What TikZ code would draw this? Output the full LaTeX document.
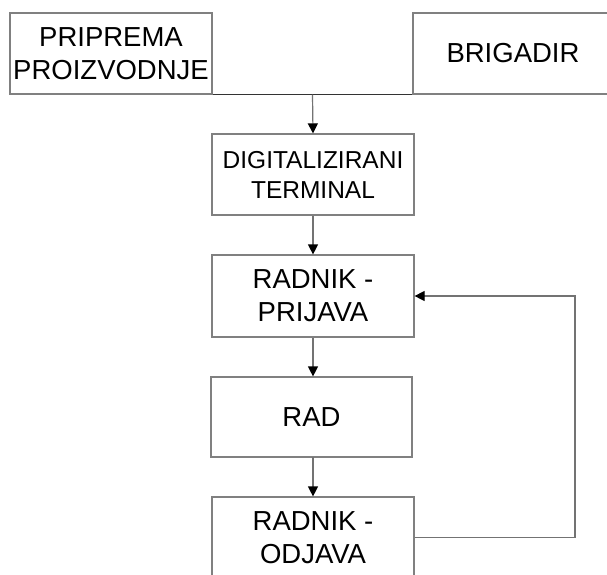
\documentclass[tikz,border=0pt]{standalone}
\usepackage{fontspec}
\setmainfont{Liberation Sans}
\usetikzlibrary{arrows.meta,calc}
\begin{document}
\begin{tikzpicture}[x=1pt,y=-1pt,
  box/.style={draw=black!50,line width=1.2pt,rectangle,inner sep=0pt,
    minimum width=202pt,minimum height=81pt,align=center,
    font=\fontsize{27.5}{33}\selectfont},
  smallbox/.style={box,font=\fontsize{24.5}{30}\selectfont},
  conn/.style={draw=black!55,line width=1.2pt},
  arr/.style={conn,-{Triangle[length=10pt,width=10pt,color=black]}}]
\useasboundingbox (0,0) rectangle (607,574);
\fill[white] (0,0) rectangle (607,574);
\node[box] (prip) at (111,53.5) {PRIPREMA\\PROIZVODNJE};
\node[box,minimum width=200pt] (brig) at (513,53.5) {BRIGADIR};
\node[smallbox] (dig) at (313,174.5) {DIGITALIZIRANI\\TERMINAL};
\node[box,minimum height=82pt] (prij) at (313,296) {RADNIK -\\PRIJAVA};
\node[box,minimum width=201pt,minimum height=80pt] (rad) at (311.5,417) {RAD};
\node[box] (odj) at (313,537.5) {RADNIK -\\ODJAVA};
\draw[conn,draw=black!80] (prip.south east) -- (brig.south west);
\coordinate (j) at ($(prip.south east)!0.5!(brig.south west)$);
\draw[arr] (j) -- (dig.north);
\draw[arr] (dig.south) -- (prij.north);
\draw[arr] (prij.south) -- (prij.south |- rad.north);
\draw[arr] (rad.south) -- (rad.south -| odj.north) -- (odj.north);
\coordinate (fb) at (575,537.5);
\draw[arr] (odj.east) -- (fb) |- (prij.east);
\end{tikzpicture}
\end{document}
